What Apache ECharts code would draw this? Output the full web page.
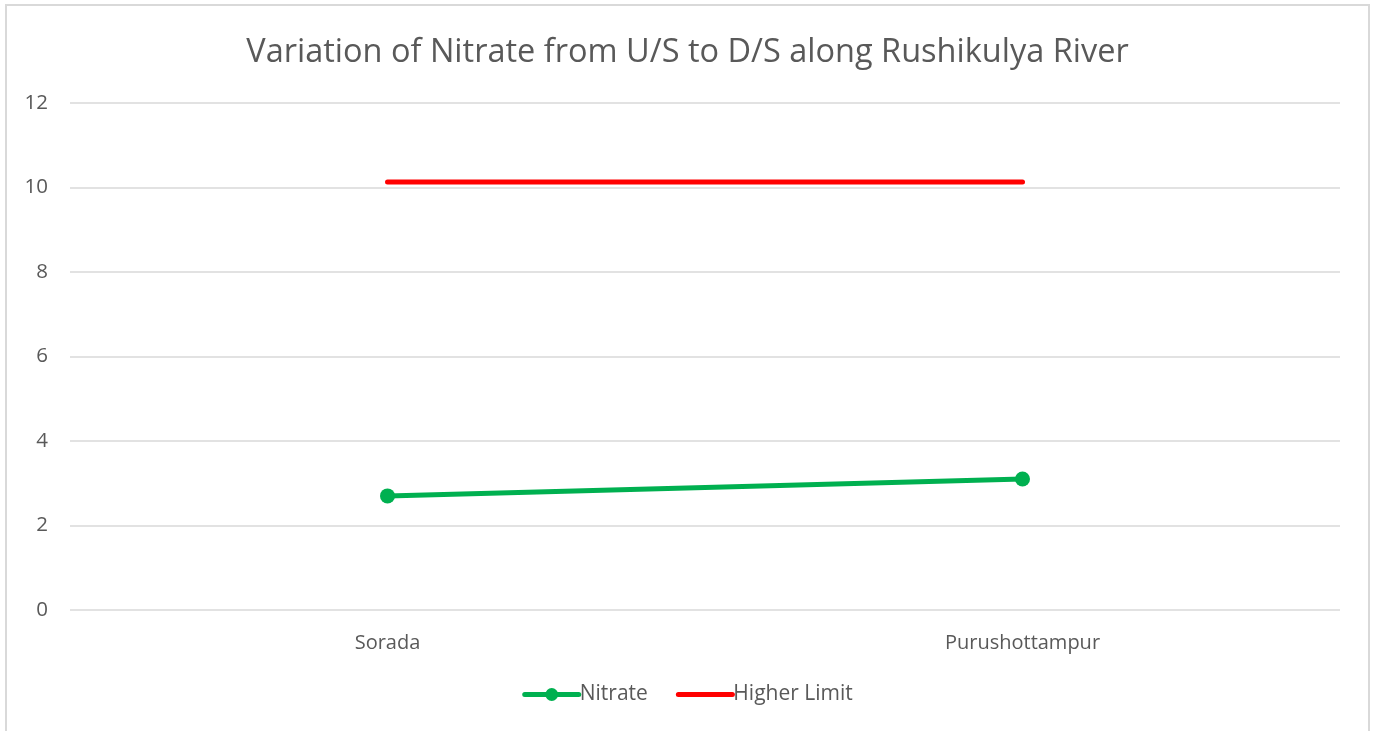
<!DOCTYPE html>
<html>
<head>
<meta charset="utf-8">
<title>Variation of Nitrate from U/S to D/S along Rushikulya River</title>
<script src="https://cdn.jsdelivr.net/npm/echarts@6/dist/echarts.min.js"></script>
<style>
  html, body { margin: 0; padding: 0; background: #ffffff; }
  #chart { width: 1375px; height: 731px; }
</style>
</head>
<body>
<div id="chart"></div>
<script>
// Sampling stations, upstream to downstream
const stations = ['Sorada', 'Purushottampur'];
// Measured nitrate concentration at each station
const nitrate = [2.7, 3.1];
// Upper permissible limit for nitrate
const higherLimit = [10.13, 10.13];
// Value axis ticks
const yTicks = [0, 2, 4, 6, 8, 10, 12];

const textColor = '#595959';
const fontFamily = '"Open Sans", "Liberation Sans", sans-serif';

const chart = echarts.init(document.getElementById('chart'), null, { renderer: 'canvas' });

chart.setOption({
  backgroundColor: '#ffffff',
  animation: false,
  graphic: [{
    type: 'rect',
    shape: { x: 6, y: 5, width: 1363, height: 740 },
    style: { fill: 'none', stroke: '#d9d9d9', lineWidth: 2 },
    silent: true,
    z: -1
  }],
  title: {
    text: 'Variation of Nitrate from U/S to D/S along Rushikulya River',
    left: 'center',
    top: 31,
    textStyle: {
      color: textColor,
      fontFamily: fontFamily,
      fontWeight: 'normal',
      fontSize: 32.5
    }
  },
  legend: {
    bottom: 21,
    left: 'center',
    itemGap: 28,
    itemWidth: 54,
    itemHeight: 16,
    lineStyle: { width: 5 },
    textStyle: { color: textColor, fontFamily: fontFamily, fontSize: 21, padding: [0, 0, 0, -4] },
    data: [
      { name: 'Nitrate' },
      { name: 'Higher Limit', itemStyle: { opacity: 0 } }
    ]
  },
  grid: { left: 70, right: 35, top: 103, bottom: 121 },
  xAxis: {
    type: 'category',
    data: stations,
    boundaryGap: true,
    axisLine: { show: false },
    axisTick: { show: false },
    axisLabel: {
      color: textColor,
      fontFamily: fontFamily,
      fontSize: 20,
      margin: 23
    }
  },
  yAxis: {
    type: 'value',
    min: yTicks[0],
    max: yTicks[yTicks.length - 1],
    interval: 2,
    axisLine: { show: false },
    axisTick: { show: false },
    axisLabel: {
      color: textColor,
      fontFamily: fontFamily,
      fontSize: 20.5,
      margin: 22
    },
    splitLine: { lineStyle: { color: '#d9d9d9', width: 1.5 } }
  },
  series: [
    {
      name: 'Nitrate',
      type: 'line',
      data: nitrate,
      symbol: 'circle',
      symbolSize: 15,
      itemStyle: { color: '#00b050' },
      lineStyle: { color: '#00b050', width: 5, cap: 'round' }
    },
    {
      name: 'Higher Limit',
      type: 'line',
      data: higherLimit,
      symbol: 'none',
      itemStyle: { color: '#ff0000' },
      lineStyle: { color: '#ff0000', width: 5, cap: 'round' }
    }
  ]
});
</script>
</body>
</html>
